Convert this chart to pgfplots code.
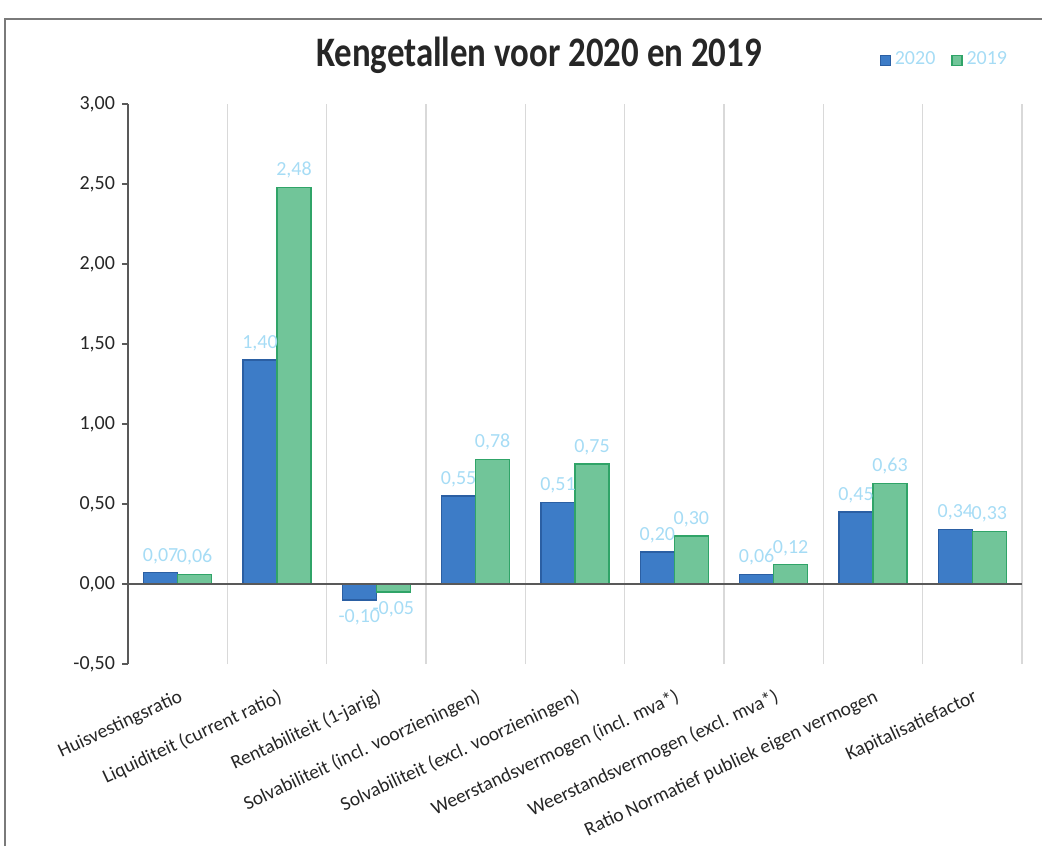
\documentclass[border=0pt]{standalone}
\usepackage{pgfplots}
\pgfplotsset{compat=1.18}
\usepackage{graphicx}
\usepackage{fontspec}
\setmainfont{Carlito}
\definecolor{c2020}{HTML}{3D7CC7}
\definecolor{c2020d}{HTML}{2B5FA3}
\definecolor{c2019}{HTML}{71C599}
\definecolor{c2019d}{HTML}{30A468}
\definecolor{lbl}{HTML}{A6DCF5}
\definecolor{axisgray}{HTML}{595959}
\definecolor{gridgray}{HTML}{D9D9D9}
\definecolor{txt}{HTML}{262626}
\begin{document}
\begin{tikzpicture}[x=1pt,y=1pt]
\path[use as bounding box] (0,0) rectangle (521,423);
\draw[color=axisgray!80, line width=1pt] (2.5,0) -- (2.5,413.5) -- (521,413.5);
\node[anchor=base, text=txt] at (269.5,389.5) {\scalebox{0.83}[1]{\fontsize{21}{25}\selectfont\bfseries Kengetallen voor 2020 en 2019}};
\begin{axis}[
  at={(64pt,91pt)}, anchor=south west,
  scale only axis, width=447pt, height=280pt,
  ymin=-0.5, ymax=3, xmin=-0.5, xmax=8.5,
  ybar=0pt, bar width=17pt,
  ytick={-0.5,0,...,3},
  xtick={0,1,...,8},
  xticklabels={Huisvestingsratio, Liquiditeit (current ratio), Rentabiliteit (1-jarig), Solvabiliteit (incl. voorzieningen), Solvabiliteit (excl. voorzieningen), Weerstandsvermogen (incl. mva*), Weerstandsvermogen (excl. mva*), Ratio Normatief publiek eigen vermogen, Kapitalisatiefactor},
  xticklabel style={xshift=2pt, yshift=-13pt, rotate=25, anchor=east, inner sep=0pt, font=\fontsize{9.75}{11}\selectfont, text=txt},
  yticklabel style={font=\fontsize{10}{12}\selectfont, text=txt},
  /pgf/number format/fixed, /pgf/number format/fixed zerofill,
  /pgf/number format/precision=2, /pgf/number format/use comma,
  /pgf/number format/assume math mode=true,
  axis y line*=left, axis x line*=bottom,
  x axis line style={draw=none},
  y axis line style={draw=axisgray, line width=1pt},
  major x tick style={draw=none},
  ytick style={draw=axisgray, line width=1pt},
  tick align=outside, major tick length=3pt,
  extra x ticks={0.5,1.5,...,8.5}, extra x tick labels={},
  extra x tick style={grid=major, major grid style={draw=gridgray, line width=0.8pt}, major tick length=0pt},
  nodes near coords,
  every node near coord/.append style={font=\fontsize{10}{12}\selectfont, text=lbl, inner sep=4.3pt},
  legend style={at={(axis description cs:0.995,1.0786)}, anchor=east, draw=none, fill=none,
    font=\fontsize{10}{12}\selectfont, text=lbl, legend columns=2,
    /tikz/every even column/.append style={column sep=6pt}},
  legend image code/.code={\draw[#1] (0.4pt,-2.6pt) rectangle (5.4pt,2.4pt);},
  clip=false,
]
\addplot[fill=c2020, draw=c2020d, line width=0.6pt] coordinates {(0,0.07) (1,1.40) (2,-0.10) (3,0.55) (4,0.51) (5,0.20) (6,0.06) (7,0.45) (8,0.34)};
\addlegendentry{2020}
\addplot[fill=c2019, draw=c2019d, line width=0.6pt] coordinates {(0,0.06) (1,2.48) (2,-0.05) (3,0.78) (4,0.75) (5,0.30) (6,0.12) (7,0.63) (8,0.33)};
\addlegendentry{2019}
\draw[axisgray, line width=1pt] (axis cs:-0.5,0) -- (axis cs:8.5,0);
\end{axis}
\end{tikzpicture}
\end{document}
